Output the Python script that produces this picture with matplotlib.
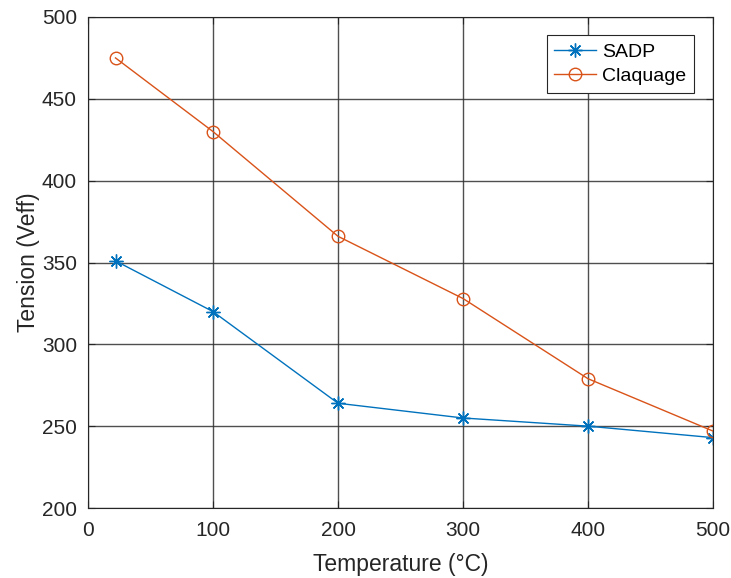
import matplotlib
matplotlib.use("Agg")
import matplotlib.pyplot as plt

temperature = [22, 100, 200, 300, 400, 500]
sadp = [351, 320, 264, 255, 250, 243]
claquage = [475, 430, 366, 328, 279, 247]
xticks = [0, 100, 200, 300, 400, 500]
yticks = [200, 250, 300, 350, 400, 450, 500]

plt.rcParams['font.family'] = ['Liberation Sans', 'DejaVu Sans']

fig = plt.figure(figsize=(7.31, 5.78), dpi=100)
ax = fig.add_axes([88/731, 1-508/578, (713-88)/731, (508-17)/578])

ax.plot(temperature, sadp, color='#0072BD', marker=(8, 2, 0), markersize=10, linewidth=1,
        label='SADP', markeredgewidth=1)
ax.plot(temperature, claquage, color='#D95319', marker='o', markersize=9, linewidth=1,
        markerfacecolor='none', label='Claquage', markeredgewidth=1)

ax.set_xlim(0, 500)
ax.set_ylim(200, 500)
ax.set_xticks(xticks)
ax.set_yticks(yticks)
ax.grid(True, color='#303030', linewidth=1, alpha=0.85)
ax.tick_params(labelsize=15, colors='#262626', direction='in', length=5,
               top=True, right=True)
ax.tick_params(axis='x', pad=9)
ax.tick_params(axis='y', pad=8)
for s in ax.spines.values():
    s.set_color('#262626')
ax.set_xlabel('Temperature (°C)', fontsize=16.5, color='#262626', labelpad=10)
ax.set_ylabel('Tension (Veff)', fontsize=16.5, color='#262626', labelpad=1)

leg = ax.legend(loc='upper right', bbox_to_anchor=(0.9696, 0.963), borderaxespad=0,
                fontsize=14, fancybox=False, framealpha=1, edgecolor='#262626',
                handlelength=2.15, borderpad=0.4, labelspacing=0.35, handletextpad=0.3)
leg.get_frame().set_linewidth(0.8)

fig.savefig('out.png', dpi=100)
